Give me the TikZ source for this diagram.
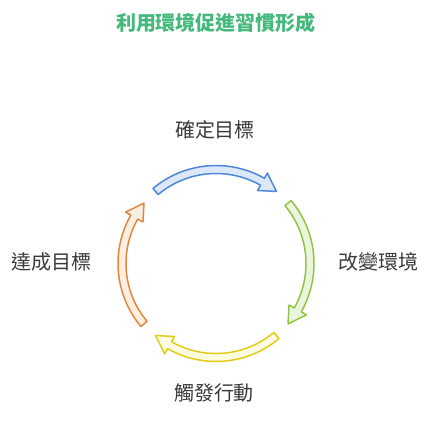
\documentclass[tikz,border=0pt]{standalone}
\usepackage{fontspec}
\setmainfont{Noto Sans CJK TC}
\definecolor{titlegreen}{HTML}{45B97C}
\definecolor{labelgray}{HTML}{3A3A3A}
\definecolor{blueline}{HTML}{4F87D8}
\definecolor{bluefill}{HTML}{DCE8FA}
\definecolor{greenline}{HTML}{92C444}
\definecolor{greenfill}{HTML}{EBF5DD}
\definecolor{yellowline}{HTML}{E2CC1A}
\definecolor{yellowfill}{HTML}{FDFBE0}
\definecolor{orangeline}{HTML}{E0893C}
\definecolor{orangefill}{HTML}{FCEEE1}
\tikzset{
  steplabel/.style={font=\fontsize{20}{24}\selectfont, text=labelgray, inner sep=0pt},
  titlelabel/.style={font=\fontsize{20}{24}\selectfont\bfseries, text=titlegreen, inner sep=0pt},
  arcarrow/.style={line width=1.5pt, line join=round}
}
% #1 = centre angle, #2 line colour, #3 fill colour
\newcommand{\cyclearrow}[3]{%
  \draw[arcarrow, draw=#2, fill=#3]
    ($(ctr)+({#1+40}:98)$) arc[start angle={#1+40}, end angle={#1-29.6}, radius=98]
    -- ($(ctr)+({#1-29.6}:104)$)
    -- ($(ctr)+({#1-40}:94)$)
    -- ($(ctr)+({#1-29.6}:84)$)
    -- ($(ctr)+({#1-29.6}:90)$)
    arc[start angle={#1-29.6}, end angle={#1+40}, radius=90]
    -- cycle;}
\usetikzlibrary{calc}
\begin{document}
\begin{tikzpicture}[x=1pt,y=1pt]
\useasboundingbox (0,0) rectangle (432,421);
\coordinate (ctr) at (216,157.5);
\node[titlelabel] (title) at (216,398) {利用環境促進習慣形成};
\cyclearrow{90}{blueline}{bluefill}
\cyclearrow{0}{greenline}{greenfill}
\cyclearrow{-90}{yellowline}{yellowfill}
\cyclearrow{180}{orangeline}{orangefill}
\node[steplabel] (s1) at (215,291) {確定目標};
\node[steplabel] (s2) at (378,159) {改變環境};
\node[steplabel] (s3) at (214,28) {觸發行動};
\node[steplabel] (s4) at (52,159) {達成目標};
\end{tikzpicture}
\end{document}
